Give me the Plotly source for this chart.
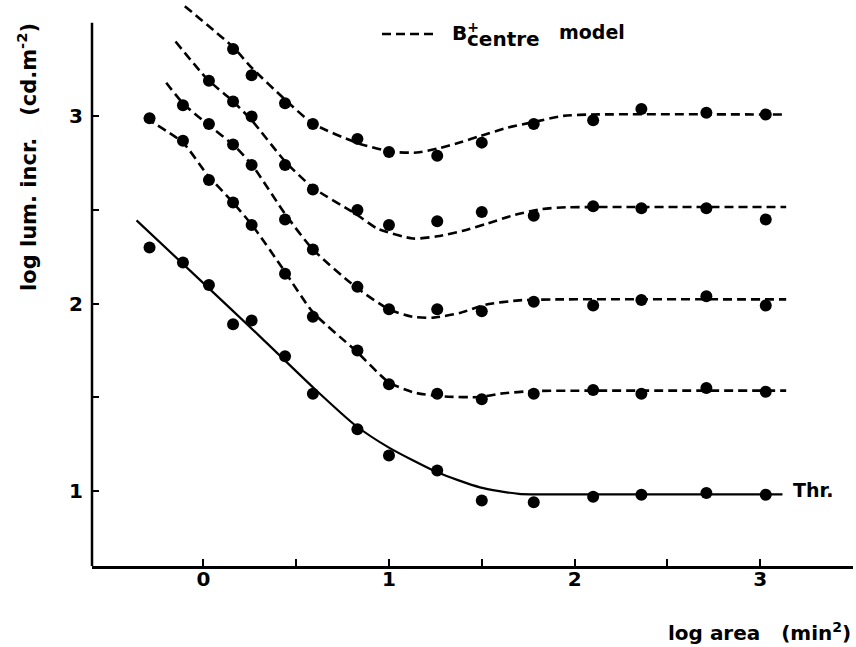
import plotly.graph_objects as go

# Stimulus sizes (log area, min^2) at which increments were measured
log_area = [-0.29, -0.11, 0.03, 0.16, 0.26, 0.44, 0.59, 0.83, 1.0, 1.26,
            1.5, 1.78, 2.1, 2.36, 2.71, 3.03]

# Measured log luminance increments (cd.m-2); upper series start at later sizes
thr_y = [2.30, 2.22, 2.10, 1.89, 1.91, 1.72, 1.52, 1.33, 1.19, 1.11,
         0.95, 0.94, 0.97, 0.98, 0.99, 0.98]
s2_y = [2.99, 2.87, 2.66, 2.54, 2.42, 2.16, 1.93, 1.75, 1.57, 1.52,
        1.49, 1.52, 1.54, 1.52, 1.55, 1.53]
s3_y = [3.06, 2.96, 2.85, 2.74, 2.45, 2.29, 2.09, 1.97, 1.97, 1.96,
        2.01, 1.99, 2.02, 2.04, 1.99]
s4_y = [3.19, 3.08, 3.00, 2.74, 2.61, 2.50, 2.42, 2.44, 2.49, 2.47,
        2.52, 2.51, 2.51, 2.45]
s5_y = [3.36, 3.22, 3.07, 2.96, 2.88, 2.81, 2.79, 2.86, 2.96, 2.98,
        3.04, 3.02, 3.01]

# Threshold curve (solid)
thr_fit_x = [-0.36, 0.0, 0.3, 0.6, 0.82, 1.0, 1.26, 1.49, 1.7, 2.0, 3.12]
thr_fit_y = [2.445, 2.11, 1.83, 1.545, 1.35, 1.232, 1.10, 1.02, 0.985, 0.982, 0.982]

# B+centre model curves (dashed)
s2_fit_x = [-0.31, -0.11, 0.02, 0.16, 0.27, 0.44, 0.59, 0.82, 1.0, 1.14, 1.3, 1.49, 1.6, 1.78, 2.1, 3.14]
s2_fit_y = [2.99, 2.86, 2.69, 2.54, 2.41, 2.17, 1.955, 1.75, 1.58, 1.525, 1.505, 1.502, 1.52, 1.534, 1.536, 1.536]
s3_fit_x = [-0.2, -0.11, 0.02, 0.17, 0.27, 0.44, 0.59, 0.82, 1.0, 1.13, 1.24, 1.38, 1.52, 1.7, 1.9, 3.14]
s3_fit_y = [3.18, 3.07, 2.96, 2.84, 2.73, 2.48, 2.29, 2.09, 1.97, 1.93, 1.926, 1.95, 1.995, 2.018, 2.023, 2.023]
s4_fit_x = [-0.15, 0.02, 0.16, 0.26, 0.44, 0.59, 0.82, 0.94, 1.13, 1.26, 1.4, 1.53, 1.67, 1.82, 1.96, 2.1, 3.14]
s4_fit_y = [3.40, 3.20, 3.08, 2.98, 2.76, 2.62, 2.48, 2.40, 2.348, 2.36, 2.39, 2.428, 2.472, 2.505, 2.515, 2.516, 2.516]
s5_fit_x = [-0.1, 0.16, 0.26, 0.44, 0.59, 0.83, 1.01, 1.15, 1.26, 1.39, 1.49, 1.64, 1.78, 1.94, 2.09, 3.14]
s5_fit_y = [3.588, 3.37, 3.26, 3.09, 2.962, 2.858, 2.812, 2.807, 2.828, 2.863, 2.895, 2.94, 2.97, 3.003, 3.01, 3.01]

x_ticks = [0, 1, 2, 3]
x_minor_ticks = [0.5, 1.5, 2.5]
y_ticks = [1, 2, 3]
y_minor_ticks = [1.5, 2.5]

FONT = "DejaVu Sans"
INK = "black"
DASH = "9px,5px"

# plot-area geometry in pixels (used to place the free text)
W, H = 856, 647
ML, MR, MT, MB = 92, 3, 4, 81
PW, PH = W - ML - MR, H - MT - MB


def px_x(px):
    return (px - ML) / PW


def px_y(py):
    return (H - MB - py) / PH


fig = go.Figure()

fig.add_trace(go.Scatter(x=thr_fit_x, y=thr_fit_y, mode="lines",
                         line=dict(color=INK, width=2.2, shape="spline", smoothing=0.6),
                         showlegend=False, hoverinfo="skip"))
for fx, fy in [(s2_fit_x, s2_fit_y), (s3_fit_x, s3_fit_y),
               (s4_fit_x, s4_fit_y), (s5_fit_x, s5_fit_y)]:
    fig.add_trace(go.Scatter(x=fx, y=fy, mode="lines",
                             line=dict(color=INK, width=2.6, dash=DASH,
                                       shape="spline", smoothing=0.6),
                             showlegend=False, hoverinfo="skip"))

for ys in [thr_y, s2_y, s3_y, s4_y, s5_y]:
    fig.add_trace(go.Scatter(x=log_area[len(log_area) - len(ys):], y=ys,
                             mode="markers",
                             marker=dict(color=INK, size=12, line=dict(width=0)),
                             showlegend=False))

tick_font = dict(family=FONT, size=20, color=INK, weight="bold")
minor_style = dict(ticks="inside", ticklen=7, tickwidth=2, tickcolor=INK, showgrid=False)

fig.update_layout(
    width=W, height=H,
    margin=dict(l=ML, r=MR, t=MT, b=MB),
    paper_bgcolor="white", plot_bgcolor="white",
    showlegend=False,
    xaxis=dict(range=[-0.6, 3.5], showgrid=False, zeroline=False,
               showline=True, linecolor=INK, linewidth=2.5,
               tickmode="array", tickvals=x_ticks,
               ticks="inside", ticklen=7, tickwidth=2, tickcolor=INK,
               minor=dict(tickmode="array", tickvals=x_minor_ticks, **minor_style),
               tickfont=tick_font, ticklabelstandoff=-7),
    yaxis=dict(range=[0.6, 3.6], showgrid=False, zeroline=False,
               showline=False,
               tickmode="array", tickvals=y_ticks,
               ticks="inside", ticklen=7, tickwidth=2, tickcolor=INK,
               minor=dict(tickmode="array", tickvals=y_minor_ticks, **minor_style),
               tickfont=tick_font, ticklabelstandoff=8),
)

# vertical axis line stops at 3.5
fig.add_shape(type="line", xref="paper", yref="y", x0=0, x1=0, y0=0.6, y1=3.5,
              line=dict(color=INK, width=2.5))

# key for the dashed model curves
fig.add_shape(type="line", xref="paper", yref="paper",
              x0=px_x(382), x1=px_x(438), y0=px_y(34), y1=px_y(34),
              line=dict(color=INK, width=2.6, dash=DASH))

text_font = dict(family=FONT, size=20, color=INK, weight="bold")

fig.add_annotation(xref="paper", yref="paper", x=px_x(450), y=px_y(31.5),
                   xanchor="left", yanchor="middle", showarrow=False,
                   text="B<sup>+</sup>", font=text_font)
fig.add_annotation(xref="paper", yref="paper", x=px_x(465), y=px_y(39),
                   xanchor="left", yanchor="middle", showarrow=False,
                   text="centre", font=text_font)
fig.add_annotation(xref="paper", yref="paper", x=px_x(557), y=px_y(31.5),
                   xanchor="left", yanchor="middle", showarrow=False,
                   text="model", font=dict(family=FONT, size=19, color=INK, weight="bold"))

fig.add_annotation(xref="paper", yref="paper", x=px_x(791), y=px_y(489.5),
                   xanchor="left", yanchor="middle", showarrow=False,
                   text="Thr.", font=dict(family=FONT, size=19, color=INK, weight="bold"))

# axis titles
fig.add_annotation(xref="paper", yref="paper", x=1.0, y=px_y(632),
                   xanchor="right", yanchor="middle", showarrow=False,
                   text="log area\u00a0\u00a0\u00a0(min<sup>2</sup>)",
                   font=dict(family=FONT, size=20, color=INK, weight="bold"))
fig.add_annotation(xref="paper", yref="paper", x=px_x(27), y=px_y(157),
                   xanchor="center", yanchor="middle", showarrow=False,
                   textangle=-90,
                   text="log lum. incr.\u00a0\u00a0\u00a0(cd.m<sup>-2</sup>)",
                   font=dict(family=FONT, size=21, color=INK, weight="bold"))

fig.write_html("out.html")
